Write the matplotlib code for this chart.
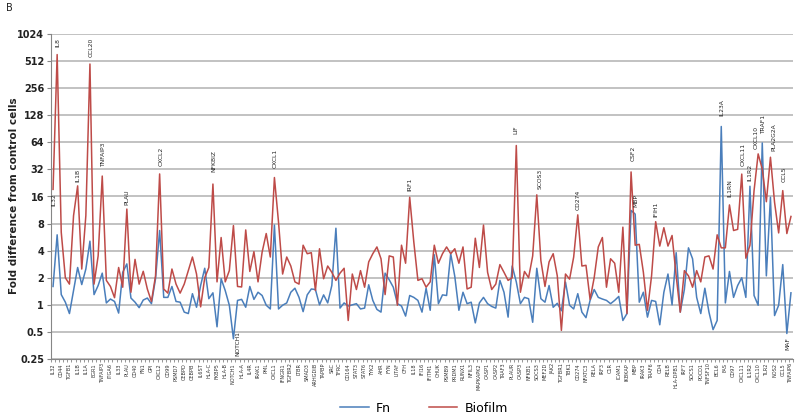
import matplotlib
matplotlib.use("Agg")
import matplotlib.pyplot as plt
from matplotlib.ticker import NullLocator, FixedLocator
import numpy as np

# ---------------- data ----------------
tick_labels = ["IL32", "CD44", "TGFB1", "IL1B", "IL1A", "EGR1", "TNFAIP3", "ITGA6", "IL33", "PLAU",
               "CD40", "FN1", "GPI", "CXCL2", "CD99", "PSMD7", "CEBPD", "CEBPB", "IL6ST", "HLA-C",
               "FKBP5", "HLA-B", "NOTCH1", "HLA-A", "IL4R", "IRAK1", "PML", "CXCL1", "IFNGR1", "TGFBR2",
               "LTBR", "SMAD3", "ARHGDIB", "TAPBP", "SRC", "TFRC", "CD164", "STAT3", "STAT6", "TYK2",
               "AHR", "FYN", "LITAF", "CFH", "IL18", "IFI16", "IFITM1", "CHUK", "PSMB9", "PRDM1",
               "RUNX1", "NFIL3", "MAPKAPK2", "CASP1", "CASP2", "TRAF3", "PLAUR", "CASP3", "NFKB1", "SOCS3",
               "MEF2D", "JAK2", "TGFBR1", "TBK1", "CD274", "NFATC3", "RELA", "IRF3", "C1R", "ICAM1",
               "IKBKAP", "MBP", "IRAK3", "TRAF6", "CD4", "RELB", "HLA-DPB1", "IRF7", "SOCS1", "PDCD1",
               "TNFSF10", "BCL6", "FAS", "CD97", "CXCL11", "IL1R2", "CXCL10", "TLR2", "NOS2", "CCL5",
               "TNFAIP6"]

fn = [1.6, 6.0, 1.3, 1.07, 0.8, 1.44, 2.6, 1.68, 2.5, 5.1,
      1.3, 1.64, 2.25, 1.05, 1.16, 1.09, 0.81, 2.3, 2.85, 1.19,
      1.07, 0.93, 1.13, 1.19, 1.03, 1.95, 6.7, 1.21, 1.21, 1.6,
      1.09, 1.07, 0.83, 0.8, 1.33, 0.94, 1.64, 2.55, 1.17, 1.36,
      0.57, 1.95, 1.44, 0.99, 0.42, 1.12, 1.15, 0.94, 1.6, 1.15,
      1.38, 1.27, 0.99, 0.9, 7.7, 0.9, 0.99, 1.05, 1.38, 1.53,
      1.21, 0.84, 1.29, 1.5, 1.48, 1.0, 1.29, 1.05, 1.64, 7.1,
      0.92, 1.05, 0.97, 1.0, 1.03, 0.9, 0.92, 1.67, 1.12, 0.89,
      0.83, 2.25, 1.9, 1.57, 1.03, 0.97, 0.75, 1.27, 1.21, 1.12,
      0.83, 1.53, 0.87, 3.6, 1.03, 1.29, 1.27, 3.7, 2.07, 0.87,
      1.38, 1.03, 1.07, 0.63, 1.05, 1.21, 1.03, 0.96, 0.92, 1.87,
      1.38, 0.73, 2.7, 1.8, 1.03, 1.21, 1.17, 0.64, 2.55, 1.17,
      1.07, 1.64, 0.94, 1.04, 0.86, 1.79, 0.99, 0.9, 1.33, 0.83,
      0.72, 1.12, 1.48, 1.21, 1.16, 1.12, 1.03, 1.12, 1.24, 0.67,
      0.8, 11.2, 10.2, 1.07, 1.38, 0.73, 1.12, 1.09, 0.6, 1.38,
      2.2, 1.0, 3.8, 0.83, 1.48, 4.3, 3.25, 1.21, 0.8, 1.53,
      0.83, 0.53, 0.67, 96, 1.05, 2.35, 1.21, 1.64, 2.0, 1.21,
      20.8, 1.27, 0.99, 63, 2.1, 15.7, 0.76, 0.99, 2.8, 0.48,
      1.36]

biofilm = [19.2, 605, 6.4, 2.0, 1.7, 9.8, 21, 2.5, 9.8, 475,
           1.7, 3.5, 27, 1.87, 1.6, 1.2, 2.6, 1.57, 11.6, 1.38,
           3.2, 1.7, 2.36, 1.5, 1.09, 2.1, 28.5, 1.5, 1.35, 2.5,
           1.7, 1.35, 1.7, 2.4, 3.4, 2.2, 0.95, 2.0, 2.6, 22,
           1.8, 5.6, 1.8, 2.4, 7.6, 1.6, 1.58, 6.8, 2.35, 3.9,
           1.8, 3.85, 6.2, 3.4, 26, 8.3, 2.2, 3.4, 2.7, 1.8,
           1.7, 4.6, 3.7, 3.8, 1.44, 4.2, 1.95, 2.7, 2.3, 1.87,
           2.25, 2.55, 0.67, 2.2, 1.48, 2.4, 1.57, 3.0, 3.7, 4.4,
           3.25, 1.3, 3.5, 3.4, 0.99, 4.6, 2.9, 15.7, 5.0, 1.87,
           1.95, 1.57, 1.8, 4.6, 2.9, 3.7, 4.4, 3.7, 4.2, 2.9,
           4.4, 1.5, 1.57, 5.5, 2.6, 7.7, 2.3, 1.48, 1.7, 2.8,
           2.3, 1.87, 2.0, 59, 1.38, 2.35, 2.0, 3.5, 16.7, 3.1,
           1.6, 3.0, 3.7, 2.1, 0.52, 2.2, 1.93, 3.4, 10.0, 2.7,
           2.75, 1.15, 2.0, 4.4, 5.6, 1.57, 3.25, 2.9, 1.38, 7.3,
           0.8, 30, 4.6, 4.7, 2.3, 0.87, 2.1, 8.4, 4.5, 7.2,
           4.5, 5.9, 2.1, 0.83, 2.4, 2.1, 1.57, 2.4, 1.8, 3.4,
           3.5, 2.5, 6.0, 4.3, 4.3, 12.9, 6.7, 6.9, 28.4, 3.3,
           4.6, 18.6, 47.6, 32.4, 14, 43.7, 13.8, 6.3, 18.6, 6.2,
           9.6]

y_ticks = [0.25, 0.5, 1, 2, 4, 8, 16, 32, 64, 128, 256, 512, 1024]
y_tick_labels = ["0.25", "0.5", "1", "2", "4", "8", "16", "32", "64", "128", "256", "512", "1024"]

# annotations: (text, index, series, dx px, dy px, va)
annotations = [("IL32", 0, "bio", 1, -4, "top"),
               ("IL8", 1, "bio", 1, 8, "bottom"),
               ("IL1B", 6, "bio", 0, 4, "bottom"),
               ("CCL20", 9, "bio", 1, 7, "bottom"),
               ("TNFAIP3", 12, "bio", 1, 9, "bottom"),
               ("PLAU", 18, "bio", 0, 4, "bottom"),
               ("CXCL2", 26, "bio", 1, 8, "bottom"),
               ("NFKBIZ", 39, "bio", 1, 12, "bottom"),
               ("NOTCH1", 44, "fn", 4, 8, "top"),
               ("CXCL1", 54, "bio", 1, 10, "bottom"),
               ("IRF1", 87, "bio", 0, 6, "bottom"),
               ("LIF", 113, "bio", 0, 12, "bottom"),
               ("SCOS3", 118, "bio", 3, 6, "bottom"),
               ("CD274", 128, "bio", 0, 5, "bottom"),
               ("CSF2", 141, "bio", 2, 11, "bottom"),
               ("MBP", 142, "fn", 1, 7, "bottom"),
               ("IFIH1", 147, "bio", 0, 5, "bottom"),
               ("IL23A", 163, "fn", 1, 10, "bottom"),
               ("IL1RN", 165, "bio", 0, 8, "bottom"),
               ("CXCL11", 168, "bio", 1, 8, "bottom"),
               ("IL1R2", 170, "fn", 0, 5, "bottom"),
               ("CXCL10", 172, "bio", -2, 5, "bottom"),
               ("TRAF1", 173, "fn", 1, 9, "bottom"),
               ("PLA2G2A", 175, "bio", 3, 6, "bottom"),
               ("CCL5", 178, "bio", 1, 9, "bottom"),
               ("MAF", 179, "fn", 1, -4, "top")]

# ---------------- plot ----------------
W, H = 800, 419
fig = plt.figure(figsize=(W / 100, H / 100), dpi=100)
ax = fig.add_axes([51 / W, 1 - 359 / H, (793 - 51) / W, (359 - 34) / H])

x = np.arange(len(fn))
blue = "#4a7ebb"
red = "#be4b48"
ax.plot(x, fn, color=blue, lw=1.1, label="Fn")
ax.plot(x, biofilm, color=red, lw=1.1, label="Biofilm")

ax.set_yscale("log", base=2)
ax.set_ylim(0.25, 1024)
ax.set_xlim(-0.5, len(fn) - 0.5)
ax.yaxis.set_major_locator(FixedLocator(y_ticks))
ax.set_yticklabels(y_tick_labels, fontsize=7, fontweight="bold", color="#222222")
ax.yaxis.set_minor_locator(NullLocator())
ax.yaxis.grid(True, color="#bdbdbd", lw=1.3)
ax.set_axisbelow(True)
ax.tick_params(axis="y", length=3, color="#868686", pad=2)

ax.set_xticks(np.arange(0, len(fn), 2))
ax.set_xticklabels(tick_labels, rotation=90, fontsize=3.6, color="#333333")
ax.set_xticks(np.arange(len(fn) + 1) - 0.5, minor=True)
ax.tick_params(axis="x", which="major", length=0, pad=3)
ax.tick_params(axis="x", which="minor", length=2.5, color="#868686", width=0.6)

for s in ["top", "right"]:
    ax.spines[s].set_visible(False)
ax.spines["left"].set_color("#868686")
ax.spines["bottom"].set_color("#868686")

series = {"fn": fn, "bio": biofilm}
for txt, i, key, dx, dy, va in annotations:
    ax.annotate(txt, xy=(i, series[key][i]), xytext=(dx * 0.72, dy * 0.72),
                textcoords="offset points", rotation=90, ha="center", va=va,
                fontsize=4.3, color="#222222")

fig.text(14 / W, 1 - 196 / H, "Fold difference from control cells", rotation=90,
         ha="center", va="center", fontsize=7.5, fontweight="bold", color="#222222")
fig.text(6 / W, 1 - 8 / H, "B", ha="left", va="center", fontsize=7, color="#222222")

fig.legend(loc="center", bbox_to_anchor=(0.53, 1 - 408 / H), ncol=2, frameon=False,
           fontsize=9, handlelength=2.3, columnspacing=3.0, handletextpad=0.6)

fig.savefig("out.png", dpi=100, facecolor="white")
